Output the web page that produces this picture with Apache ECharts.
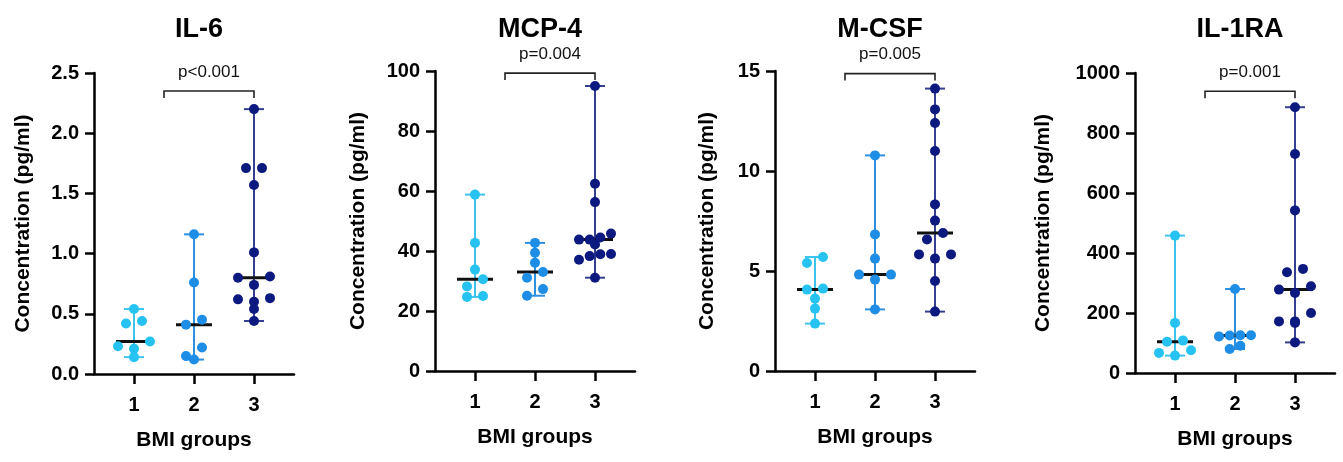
<!DOCTYPE html>
<html>
<head>
<meta charset="utf-8">
<script src="https://cdn.jsdelivr.net/npm/echarts@6/dist/echarts.min.js"></script>
<style>
html,body{margin:0;padding:0;background:#fff;}
#chart{width:1343px;height:462px;}
</style>
</head>
<body>
<div id="chart"></div>
<script>
// ---------- data ----------
const categories = ['1', '2', '3'];
const panelTitles = ['IL-6', 'MCP-4', 'M-CSF', 'IL-1RA'];
const pLabels = ['p<0.001', 'p=0.004', 'p=0.005', 'p=0.001'];

const il6_g1 = [0.54, 0.44, 0.42, 0.27, 0.23, 0.21, 0.14];
const il6_g2 = [1.16, 0.76, 0.45, 0.41, 0.22, 0.15, 0.12];
const il6_g3 = [2.20, 1.71, 1.71, 1.57, 1.01, 0.81, 0.80, 0.74, 0.63, 0.62, 0.60, 0.54, 0.44];

const mcp4_g1 = [58.8, 42.7, 33.8, 30.6, 28.2, 25.0, 24.7];
const mcp4_g2 = [42.7, 39.4, 36.1, 33.0, 31.1, 27.3, 25.1];
const mcp4_g3 = [95.0, 62.4, 56.3, 45.8, 44.5, 43.8, 43.8, 42.2, 39.0, 38.9, 38.3, 37.1, 31.1];

const mcsf_g1 = [5.70, 5.40, 4.12, 4.07, 3.62, 3.12, 2.37];
const mcsf_g2 = [10.78, 6.83, 5.62, 4.82, 4.82, 4.57, 3.08];
const mcsf_g3 = [14.12, 13.08, 12.40, 11.00, 8.33, 7.52, 6.90, 6.58, 5.83, 5.83, 5.62, 4.50, 2.97];

const il1ra_g1 = [458, 167, 108, 104, 76, 67, 58];
const il1ra_g2 = [280, 126, 126, 125, 122, 91, 80];
const il1ra_g3 = [886, 730, 542, 347, 336, 289, 278, 267, 200, 172, 172, 167, 102];

const yAxisMax = [2.5, 100, 15, 1000];
const yAxisStep = [0.5, 20, 5, 200];
const yLabelDecimals = [1, 0, 0, 0];

const bracketFrom = [1.5, 1.5, 1.5, 1.5];
const bracketTo = [3, 3, 3, 3];
const bracketLevel = [2.35, 99.3, 14.87, 939];

const panelGroups = [
  [il6_g1, il6_g2, il6_g3],
  [mcp4_g1, mcp4_g2, mcp4_g3],
  [mcsf_g1, mcsf_g2, mcsf_g3],
  [il1ra_g1, il1ra_g2, il1ra_g3]
];

// ---------- layout / style ----------
const FONT = "'Liberation Sans', Arial, Helvetica, sans-serif";
const dotColors = ['#26C3F2', '#1E8DE6', '#0C1A80'];
const lineColors = ['#3CC4EC', '#2F90DF', '#34408F'];
const grids = [
  {left: 94, top: 73, width: 200, height: 301},
  {left: 435, top: 71, width: 200, height: 300},
  {left: 775, top: 71, width: 200, height: 300},
  {left: 1135, top: 73, width: 200, height: 300}
];
const yNameGaps = [60, 66, 57, 81];
const X_MIN = 1 / 3, X_MAX = 11 / 3;
const DOT = 10;

function median(arr) {
  const s = arr.slice().sort((a, b) => a - b);
  const n = s.length;
  return n % 2 ? s[(n - 1) / 2] : (s[n / 2 - 1] + s[n / 2]) / 2;
}

// Prism-like row arrangement of dots (deterministic)
function arrange(values, gx, pxPerY, pxPerX) {
  const sorted = values.slice().sort((a, b) => b - a);
  const rows = [];
  sorted.forEach(v => {
    const last = rows[rows.length - 1];
    if (last && (last.start - v) * pxPerY < 9.2) last.items.push(v);
    else rows.push({start: v, items: [v]});
  });
  const nmax = Math.max(...rows.map(r => r.items.length));
  const S = nmax > 1 ? Math.min(16, 32 / (nmax - 1)) : 16;
  const slotOrders = {1: [0], 2: [0.5, -0.5], 3: [1, -1, 0], 4: [1.5, 0.5, -0.5, -1.5]};
  const pts = [];
  rows.forEach(r => {
    const n = r.items.length;
    const slots = slotOrders[n] || r.items.map((_, i) => (n - 1) / 2 - i);
    r.items.forEach((v, i) => pts.push([gx + slots[i] * S / pxPerX, v]));
  });
  return pts;
}

const option = {
  backgroundColor: '#fff',
  animation: false,
  title: [], grid: [], xAxis: [], yAxis: [], series: []
};

panelGroups.forEach((groups, p) => {
  const g = grids[p];
  option.grid.push(g);
  option.title.push({
    text: panelTitles[p],
    left: g.left + g.width / 2, top: 11, textAlign: 'center',
    textStyle: {fontFamily: FONT, fontWeight: 'bold', fontSize: 27, color: '#000'}
  });
  option.xAxis.push({
    gridIndex: p, type: 'value', min: X_MIN, max: X_MAX,
    name: 'BMI groups', nameLocation: 'middle', nameGap: 56,
    nameTextStyle: {fontFamily: FONT, fontWeight: 'bold', fontSize: 21, color: '#000'},
    axisLine: {show: true, onZero: false, lineStyle: {color: '#000', width: 2.5}},
    axisTick: {show: true, customValues: [1, 2, 3], length: 10, lineStyle: {color: '#000', width: 2.5}},
    axisLabel: {
      customValues: [1, 2, 3], margin: 21,
      formatter: v => categories[Math.round(v) - 1],
      fontFamily: FONT, fontWeight: 'bold', fontSize: 20, color: '#000'
    },
    splitLine: {show: false}
  });
  option.yAxis.push({
    gridIndex: p, type: 'value', min: 0, max: yAxisMax[p], interval: yAxisStep[p],
    name: 'Concentration (pg/ml)', nameLocation: 'middle', nameGap: yNameGaps[p],
    nameTextStyle: {fontFamily: FONT, fontWeight: 'bold', fontSize: 21, color: '#000'},
    axisLine: {show: true, onZero: false, lineStyle: {color: '#000', width: 2.5}},
    axisTick: {show: true, length: 9, lineStyle: {color: '#000', width: 2.5}},
    axisLabel: {
      margin: 15, formatter: v => v.toFixed(yLabelDecimals[p]),
      fontFamily: FONT, fontWeight: 'bold', fontSize: 20, color: '#000'
    },
    splitLine: {show: false}
  });

  const pxPerY = g.height / yAxisMax[p];
  const pxPerX = g.width / (X_MAX - X_MIN);

  // range (min-max) with caps + median
  option.series.push({
    type: 'custom', xAxisIndex: p, yAxisIndex: p, z: 1, clip: false, silent: true,
    data: groups.map((vals, gi) => [gi + 1, Math.min(...vals), Math.max(...vals), median(vals), gi]),
    renderItem: function (params, api) {
      const x = api.value(0), lo = api.value(1), hi = api.value(2), md = api.value(3), gi = api.value(4);
      const pLo = api.coord([x, lo]), pHi = api.coord([x, hi]), pMd = api.coord([x, md]);
      const c = lineColors[gi];
      const st = {stroke: c, lineWidth: 2};
      return {
        type: 'group', children: [
          {type: 'line', shape: {x1: pLo[0], y1: pLo[1], x2: pHi[0], y2: pHi[1]}, style: st},
          {type: 'line', shape: {x1: pLo[0] - 10, y1: pLo[1], x2: pLo[0] + 10, y2: pLo[1]}, style: st},
          {type: 'line', shape: {x1: pHi[0] - 10, y1: pHi[1], x2: pHi[0] + 10, y2: pHi[1]}, style: st},
          {type: 'line', shape: {x1: pMd[0] - 18, y1: pMd[1], x2: pMd[0] + 18, y2: pMd[1]}, style: {stroke: '#111', lineWidth: 3}}
        ]
      };
    }
  });

  // dots
  groups.forEach((vals, gi) => {
    option.series.push({
      type: 'scatter', xAxisIndex: p, yAxisIndex: p, z: 3, silent: true,
      symbol: 'circle', symbolSize: DOT,
      itemStyle: {color: dotColors[gi], opacity: 1},
      data: arrange(vals, gi + 1, pxPerY, pxPerX)
    });
  });

  // significance bracket
  option.series.push({
    type: 'custom', xAxisIndex: p, yAxisIndex: p, z: 4, clip: false, silent: true,
    data: [[bracketFrom[p], bracketTo[p], bracketLevel[p]]],
    renderItem: function (params, api) {
      const a = api.coord([api.value(0), api.value(2)]);
      const b = api.coord([api.value(1), api.value(2)]);
      const st = {stroke: '#222', lineWidth: 1.6, fill: null};
      return {
        type: 'group', children: [
          {type: 'polyline', shape: {points: [[a[0], a[1] + 7], a, b, [b[0], b[1] + 7]]}, style: st},
          {type: 'text', x: (a[0] + b[0]) / 2, y: a[1] - 19,
           style: {text: pLabels[p], fill: '#111', font: '17px ' + FONT, align: 'center', verticalAlign: 'middle'}}
        ]
      };
    }
  });
});

const chart = echarts.init(document.getElementById('chart'), null, {renderer: 'canvas'});
chart.setOption(option);
</script>
</body>
</html>
